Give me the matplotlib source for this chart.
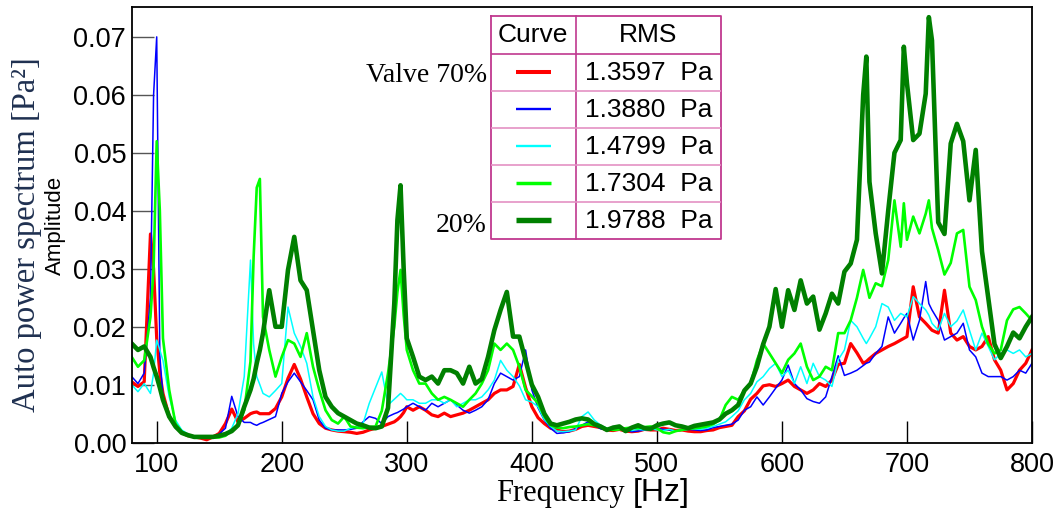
import numpy as np
import matplotlib
matplotlib.use('Agg')
import matplotlib.pyplot as plt
from matplotlib.ticker import FormatStrFormatter

# frequency grid [Hz], a bit denser around the sharp peaks
freq = np.concatenate([np.arange(80, 95.1, 5), [97.5, 100, 102.5],
                       np.arange(105, 175.1, 5), [177.5, 180, 182.5],
                       np.arange(185, 290.1, 5), [292.5, 295, 297.5],
                       np.arange(300, 665.1, 5), [667.5],
                       np.arange(670, 695.1, 5), [697.5],
                       np.arange(700, 715.1, 5), [717.5],
                       np.arange(720, 800.1, 5)])

red = [10.5, 9.7, 10.5, 36, 30, 18, 12, 8.5, 4.5, 2.8, 1.7, 1.2, 1.0, 0.8, 0.5, 1.0, 1.6, 3.3, 5.8, 3.6, 4.2, 5.0,
       5.2, 5.3, 5.0, 5.0, 5.0, 5.9, 7.9, 11.1, 13.5, 11.0, 7.9, 5.0, 3.3, 2.5, 2.2, 2.0, 1.9, 1.8, 1.6, 1.8, 2.2,
       2.5, 2.8, 3.2, 3.6, 4.0, 4.5, 5.2, 6.2,
       5.6, 6.2, 5.6, 4.8, 4.5, 5.1, 4.5, 4.8, 5.1, 5.6, 6.2, 6.8, 7.4, 8.5, 9.1, 9.1, 9.7, 13.5, 9.5, 6.2,
       4.3, 3.3, 2.5, 2.2, 1.9, 2.0, 2.3, 2.8, 3.0, 2.8, 2.6, 2.2, 2.1, 2.3, 2.0, 1.9, 2.0, 2.3, 2.2, 2.2,
       2.5, 2.3, 2.1, 2.2, 2.0, 1.9, 1.9, 2.1, 2.2, 2.6, 2.8, 3.0, 4.5, 5.5, 7.5, 8.5, 9.8, 10.0, 9.7, 10.2,
       10.8, 9.7, 9.1, 8.5, 9.1, 10.2, 9.7, 10.8, 13.5, 13.7, 17.1, 15.5, 13.7,
       14.0, 14.5, 15.4, 16, 16.6, 17.1, 17.7, 18.0, 18.3, 26.9, 21.7, 20.6, 20.0, 19.4, 18.9, 26.3, 18.9,
       17.7, 18.3, 16.6, 16.0, 16.6, 18.3, 14.3, 12.5, 9.1, 10.2, 12.5, 13.7, 16.0]

blue = [11.4, 10.2, 12, 25, 60, 70, 15, 8, 4.5, 2.5, 1.8, 1.2, 1.0, 0.8, 0.8, 1.0, 1.5, 2.5, 8.0, 4.5, 3.5, 3.5,
        3.2, 3.0, 3.3, 3.5, 4.0, 4.5, 8.5, 10.5, 12, 10.5, 9.0, 7.4, 3.9, 2.5, 2.2, 2.2, 2.2, 2.3, 2.5, 3.6, 4.5,
        4.2, 3.3, 4.5, 5.0, 5.2, 5.5, 5.8, 6.2,
        6.8, 6.2, 5.6, 6.8, 6.2, 6.8, 7.4, 6.5, 5.6, 5.1, 5.6, 6.2, 7.4, 10.2, 12, 11.4, 10.8, 11.4, 16, 9.1,
        6.0, 3.9, 2.5, 1.6, 1.7, 1.9, 2.4, 3.0, 3.6, 3.0, 2.4, 2.2, 2.8, 2.4, 2.2, 1.9, 2.0, 2.2, 2.3, 2.5,
        2.3, 2.2, 2.0, 2.2, 2.3, 2.2, 2.1, 2.2, 2.6, 2.8, 3.0, 3.2, 3.9, 5.6, 6.2, 7.9, 6.5, 7.9, 9.4, 10.8,
        13.4, 10.2, 9.1, 7.6, 7.1, 6.8, 7.9, 11.4, 15.0, 11.6, 12.0, 12.5, 13.3,
        13.7, 13.9, 15.4, 16.6, 21.7, 18.9, 20.6, 21.5, 22.3, 17.7, 21.1, 27.8, 24, 22.9, 21.1, 17.7, 18.3,
        18.9, 20.6, 16, 14.8, 12, 11.4, 11.4, 11.4, 10.8, 11.4, 12.5, 12, 13.7]

cyan = [10, 8.8, 10.2, 8.5, 12, 17.7, 16, 14.2, 7.9, 3.9, 2.2, 1.5, 1.0, 1.0, 1.0, 1.0, 1.1, 1.5, 2.5, 5.0, 11.4, 31.5,
        17, 11.4, 10, 8.5, 7.9, 9.0, 10.2, 23.4, 18.9, 16.6, 13.7, 7.9, 4.5, 2.8, 2.2, 2.0, 2.0, 2.5, 2.8, 3.3, 6.8,
        9.5, 12.2, 6.5, 7.5, 8.0, 8.5, 8.0, 7.4,
        7.4, 6.8, 6.8, 7.4, 7.4, 6.8, 7.4, 6.2, 6.8, 7.4, 7.4, 7.9, 9.1, 10.8, 14.2, 12.5, 11.4, 9.8, 7.4, 7.0,
        6.2, 4.0, 2.8, 2.0, 1.9, 2.0, 2.2, 4.5, 5.3, 3.9, 3.0, 2.5, 2.3, 2.4, 2.2, 2.1, 2.3, 2.2, 2.4, 2.2,
        2.1, 2.3, 2.0, 2.2, 2.3, 2.4, 2.3, 2.5, 2.8, 3.2, 3.6, 4.5, 5.5, 7.4, 8.5, 10.5, 11.4, 12.8, 13.7, 11.4,
        12.5, 10.2, 13.1, 10.2, 13.7, 11.4, 10.8, 9.7, 14.3, 16, 21.1, 20, 18,
        17.1, 18, 20, 24, 23.4, 21.1, 22.3, 22, 21.7, 25.2, 24, 22.9, 22, 20.6, 19.4, 22.3, 20,
        21, 22.9, 19.4, 16, 18.9, 16.6, 14.3, 15.4, 16, 15.4, 16, 14.8, 15.4]

lime = [14.8, 13.1, 14.2, 21.7, 30, 52, 40, 18, 9.1, 3.3, 1.9, 1.3, 1.0, 0.9, 0.9, 0.9, 0.9, 1.2, 2.2, 3.0, 5.6, 14,
        32, 44, 45.5, 21.7, 16, 11.4, 14.8, 17.7, 17.1, 14.8, 18.9, 13.1, 9.1, 5.6, 3.9, 3.3, 4.5, 2.8, 2.6, 2.5, 2.7,
        2.8, 5.5, 12, 20, 26, 29.8, 22, 16,
        12.5, 10.2, 10.2, 8.5, 7.4, 7.9, 7.4, 6.8, 6.2, 7.4, 8.5, 10.2, 12.5, 17.1, 16, 17.1, 16, 13.1, 9.1, 8.0,
        6.8, 4.5, 3.0, 2.6, 2.5, 2.7, 2.8, 3.0, 3.2, 3.0, 2.8, 2.4, 2.2, 2.3, 2.5, 2.6, 2.5, 2.7, 2.8, 2.5,
        1.8, 1.6, 2.0, 2.2, 2.4, 2.5, 2.6, 2.8, 3.2, 3.9, 6.5, 7.9, 7.4, 9.0, 10.2, 14.2, 17.1, 15.4, 13.7, 12,
        14.3, 15.4, 17.1, 13.1, 10.8, 11.4, 13.1, 12.5, 18.9, 18.9, 21.1, 25, 29.8,
        27.5, 25, 27.5, 27, 31.5, 41.8, 33.8, 41.3, 35, 39, 36.1, 39.5, 41.8, 37, 33.2, 29, 31,
        36.1, 36.7, 26.9, 24.6, 20, 17, 15.4, 16, 21.1, 23, 23.4, 22.3, 21.1]

dgreen = [17.1, 16, 16.6, 14.8, 13, 11.4, 9.5, 7.4, 4.5, 2.8, 1.7, 1.3, 1.0, 1.0, 1.0, 1.0, 1.2, 1.5, 2.0, 3.0, 6.2,
          9.1, 11, 13.7, 16, 18.9, 26.3, 20, 20, 29.8, 35.5, 28, 26.3, 19.4, 12.5, 7.9, 6.2, 5.1, 4.5, 3.9, 3.3,
          3.0, 2.6, 2.5, 2.8, 6, 24, 38.4, 44.4, 30, 18,
          14.8, 11.4, 10.8, 11.4, 10.2, 12.5, 12.5, 12, 10.2, 13.1, 10.2, 11, 14.8, 19.4, 22.9, 26, 18.3, 18.3, 14.2, 10,
          7.9, 5.0, 3.3, 3.0, 3.3, 3.6, 4.0, 4.2, 4.0, 3.2, 2.8, 2.2, 2.6, 2.8, 2.0, 2.6, 3.0, 2.5, 2.4, 3.0,
          3.3, 3.5, 3.0, 2.8, 2.5, 2.9, 3.1, 3.3, 3.5, 4.0, 5.0, 5.6, 6.5, 9.0, 10.2, 13.1, 17, 20, 26.5, 20,
          26.3, 22.9, 28, 24, 25.2, 19.5, 22.3, 25.7, 24, 29.5, 30.9, 35, 60,
          66.6, 45, 36.1, 29.2, 40, 50, 52.2, 68.3, 62, 52.2, 53.3, 60.2, 73.4, 69.4, 38, 36, 51.6,
          55, 52, 41.8, 50.5, 33, 25, 17, 14.6, 16.6, 19, 18, 20, 21.7]

series = [red, blue, cyan, lime, dgreen]
colors = ['#ff0000', '#0000ff', '#00ffff', '#00ff00', '#008000']
widths = [2.3, 1.1, 1.1, 1.9, 3.3]
rms = ['1.3597', '1.3880', '1.4799', '1.7304', '1.9788']

plt.rcParams['font.family'] = 'Liberation Sans'

W, H = 1062, 515
fig = plt.figure(figsize=(W / 100, H / 100), dpi=100)
ax = fig.add_axes([131.7 / W, 1 - 442.7 / H, (1032 - 131.7) / W, (442.7 - 7.3) / H])

for vals, c, lw in zip(series, colors, widths):
    ax.plot(freq, np.array(vals) / 1000, color=c, lw=lw, solid_joinstyle='round')

ax.set_xlim(80, 800)
ax.set_ylim(0, 0.0751)
ax.set_xticks(np.arange(100, 801, 100))
ax.set_yticks(np.arange(0, 0.0701, 0.01))
ax.yaxis.set_major_formatter(FormatStrFormatter('%.2f'))
ax.tick_params(axis='x', direction='in', length=16, width=1.0, pad=7, labelsize=19.5)
ax.tick_params(axis='y', direction='in', length=16, width=1.0, color='#555555', pad=4, labelsize=19.5)
for s in ax.spines.values():
    s.set_linewidth(1.3)

# axis titles
fig.text(625 / W, 1 - 500.7 / H, 'Frequency', family='Liberation Serif', fontsize=22,
         ha='right', va='baseline')
fig.text(633 / W, 1 - 500.7 / H, '[Hz]', fontsize=23, ha='left', va='baseline')
fig.text(27 / W, 1 - 235 / H, 'Auto power spectrum [Pa²]', family='Liberation Serif', fontsize=23.5,
         rotation=90, ha='center', va='center', color='#1f3050')
fig.text(55 / W, 1 - 225.5 / H, 'Amplitude', fontsize=16, rotation=90, ha='center', va='center')

# legend table
lx0, ly0, lx1, ly1 = 491, 16, 721, 239
lg = fig.add_axes([lx0 / W, 1 - ly1 / H, (lx1 - lx0) / W, (ly1 - ly0) / H])
lg.set_xlim(0, lx1 - lx0)
lg.set_ylim(ly1 - ly0, 0)
lg.axis('off')
border = '#c0388f'
wt, ht = lx1 - lx0, ly1 - ly0
lg.plot([0, wt, wt, 0, 0], [0, 0, ht, ht, 0], color=border, lw=1.3, clip_on=False)
lg.plot([84.7, 84.7], [0, ht], color=border, lw=1.2, clip_on=False)
rows = [37.7, 74.7, 112, 149, 186]
lg.plot([0, wt], [rows[0], rows[0]], color=border, lw=1.2)
for r in rows[1:]:
    lg.plot([0, wt], [r, r], color='#e491c4', lw=1.2)
lg.text(42.3, 19, 'Curve', fontsize=19, ha='center', va='center')
lg.text(157, 19, 'RMS', fontsize=19, ha='center', va='center')
edges = rows + [ht]
for i in range(5):
    yc = (edges[i] + edges[i + 1]) / 2
    lg.plot([25, 60], [yc, yc], color=colors[i], lw=widths[i] + 0.6, solid_capstyle='butt')
    lg.text(94, yc + 1, rms[i] + '  Pa', fontsize=19, ha='left', va='center')

fig.text(486.7 / W, 1 - 81.7 / H, 'Valve 70%', family='Liberation Serif', fontsize=20,
         ha='right', va='baseline')
fig.text(486.7 / W, 1 - 231.7 / H, '20%', family='Liberation Serif', fontsize=20,
         ha='right', va='baseline')

fig.savefig('out.png', dpi=100)
